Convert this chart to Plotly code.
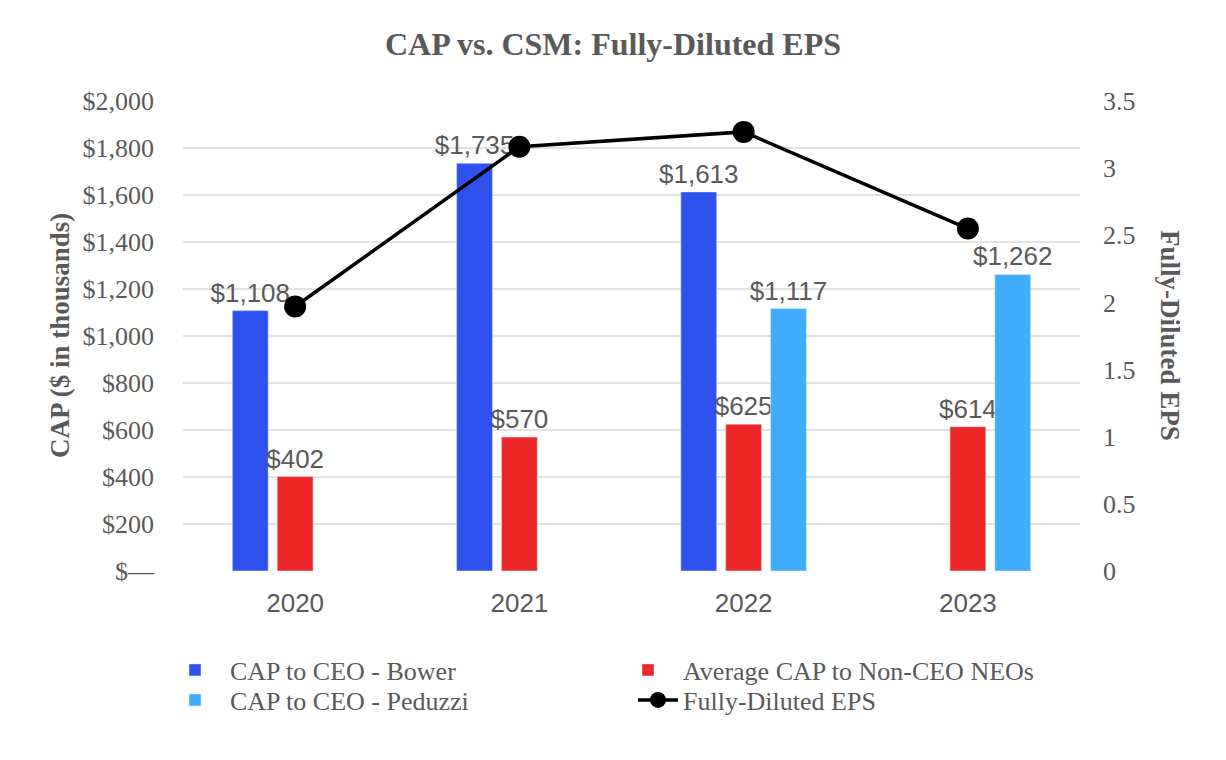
import plotly.graph_objects as go

years = ["2020", "2021", "2022", "2023"]
bower = [1108, 1735, 1613, None]
non_ceo = [402, 570, 625, 614]
peduzzi = [None, None, 1117, 1262]
eps = [1.97, 3.16, 3.27, 2.55]

left_ticks = [0, 200, 400, 600, 800, 1000, 1200, 1400, 1600, 1800, 2000]
left_labels = ["$—", "$200", "$400", "$600", "$800", "$1,000", "$1,200", "$1,400", "$1,600", "$1,800", "$2,000"]
right_ticks = [0, 0.5, 1, 1.5, 2, 2.5, 3, 3.5]
right_labels = ["0", "0.5", "1", "1.5", "2", "2.5", "3", "3.5"]

GRAY = "#595959"
SERIF = "Liberation Serif, Times New Roman, serif"
SANS = "Liberation Sans, Arial, sans-serif"
W, H = 1226, 760


def fmt(vals):
    return [None if v is None else "${:,}".format(v) for v in vals]


def bar(y, name, color, legend):
    return go.Bar(x=years, y=y, name=name, marker_color=color, legend=legend,
                  text=fmt(y), textposition="outside", cliponaxis=False,
                  constraintext="none",
                  textfont=dict(family=SANS, size=26, color=GRAY))


fig = go.Figure()
fig.add_trace(bar(bower, "CAP to CEO - Bower", "#2f52ef", "legend"))
fig.add_trace(bar(non_ceo, "Average CAP to Non-CEO NEOs", "#ee2828", "legend2"))
fig.add_trace(bar(peduzzi, "CAP to CEO - Peduzzi", "#3fadfb", "legend3"))
fig.add_trace(go.Scatter(x=years, y=eps, name="Fully-Diluted EPS", yaxis="y2", mode="lines+markers",
                         line=dict(color="black", width=3.5), marker=dict(color="black", size=22),
                         cliponaxis=False, legend="legend4"))


def leg(x_px, y_px, iw):
    return dict(orientation="v", xref="container", x=x_px / W, xanchor="left",
                yref="container", y=1 - y_px / H, yanchor="middle",
                font=dict(family=SERIF, size=26, color=GRAY), itemwidth=iw,
                bgcolor="rgba(0,0,0,0)")


fig.update_layout(
    width=W, height=H,
    paper_bgcolor="white", plot_bgcolor="white",
    margin=dict(l=183, r=146, t=101, b=189, autoexpand=False),
    barmode="group", bargap=0.4, bargroupgap=0.2,
    title=dict(text="<b>CAP vs. CSM: Fully-Diluted EPS</b>", x=0.5, xanchor="center",
               y=1 - 44 / H, yanchor="middle",
               font=dict(family=SERIF, size=32, color=GRAY)),
    xaxis=dict(type="category", showgrid=False, showline=False, ticks="",
               tickfont=dict(family=SANS, size=26, color=GRAY), ticklabelstandoff=14),
    yaxis=dict(range=[0, 2000], tickvals=left_ticks, ticktext=left_labels,
               showgrid=True, gridcolor="#e3e3e3", gridwidth=2, zeroline=False,
               tickfont=dict(family=SERIF, size=26, color=GRAY), ticklabelstandoff=28),
    yaxis2=dict(range=[0, 3.5], tickvals=right_ticks, ticktext=right_labels, overlaying="y",
                side="right", showgrid=False, zeroline=False,
                tickfont=dict(family=SERIF, size=26, color=GRAY), ticklabelstandoff=22),
    legend=leg(160, 670, 60),
    legend2=leg(613, 670, 60),
    legend3=leg(160, 700, 60),
    legend4=leg(633, 700, 40),
    showlegend=True,
    annotations=[
        dict(text="<b>CAP ($ in thousands)</b>", xref="paper", yref="paper", x=-0.137, y=0.5,
             xanchor="center", yanchor="middle",
             textangle=-90, showarrow=False, font=dict(family=SERIF, size=27, color=GRAY)),
        dict(text="<b>Fully-Diluted EPS</b>", xref="paper", yref="paper", x=1.1003, y=0.5,
             xanchor="center", yanchor="middle",
             textangle=90, showarrow=False, font=dict(family=SERIF, size=27, color=GRAY)),
    ],
)

fig.write_html("out.html", config={"displayModeBar": False},
               post_script="document.body.style.margin='0';")
